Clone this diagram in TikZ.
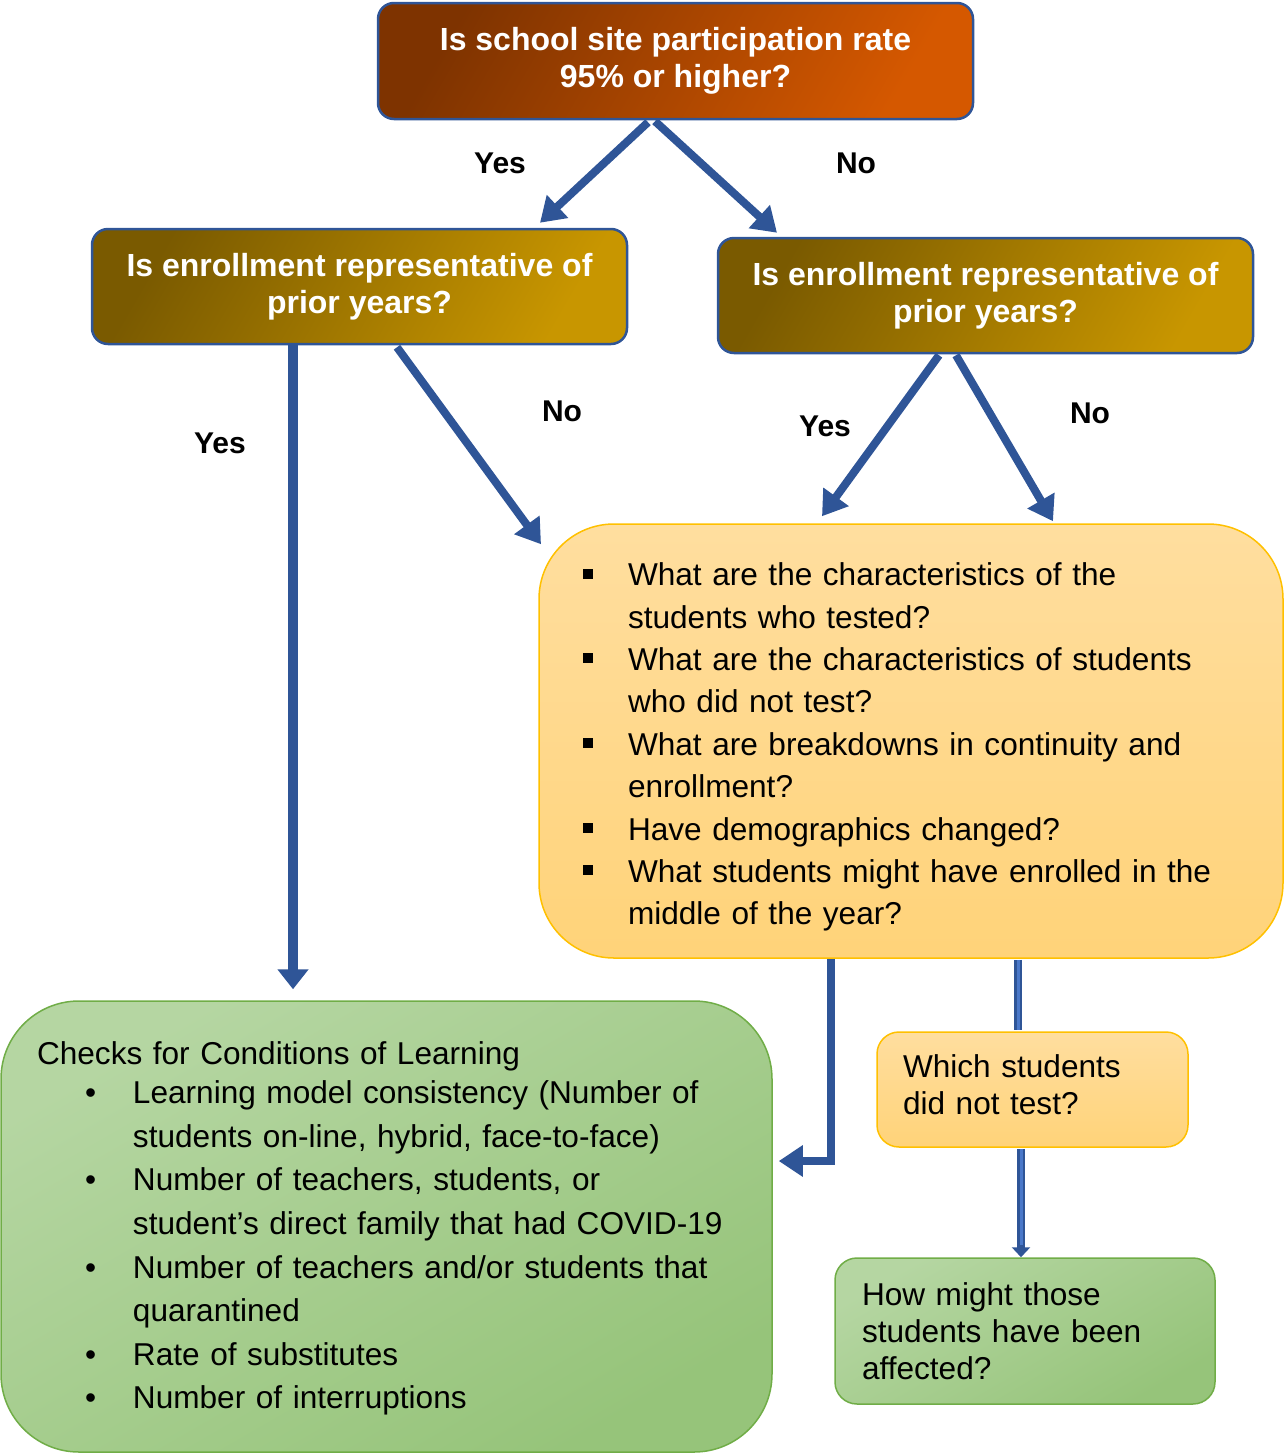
\documentclass[tikz,border=0pt]{standalone}
\usepackage{fontspec}
\setmainfont{Liberation Sans}
\usetikzlibrary{arrows.meta}
\definecolor{arrowblue}{HTML}{2F5597}
\definecolor{lightblue}{HTML}{4A78C9}
\definecolor{boxedge}{HTML}{2F5597}
\definecolor{brownA}{HTML}{7E3300}
\definecolor{brownB}{HTML}{D55800}
\definecolor{goldA}{HTML}{7A5A00}
\definecolor{goldB}{HTML}{C89600}
\definecolor{yelA}{HTML}{FFDE9F}
\definecolor{yelB}{HTML}{FFD379}
\definecolor{yeledge}{HTML}{FFC000}
\definecolor{grnA}{HTML}{B5D6A2}
\definecolor{grnB}{HTML}{96C47A}
\definecolor{grnedge}{HTML}{70AD47}
\newcommand\sqitem{\makebox[45pt][l]{\raisebox{7pt}{\rule{10pt}{10pt}}}}
\newcommand\sqcont{\hspace*{45pt}}
\newcommand\gitem{\hspace*{48pt}\makebox[48pt][l]{\textbullet}}
\newcommand\gcont{\hspace*{96pt}}
\tikzset{
  qbase/.style={draw=boxedge, line width=2.5pt, rounded corners=16pt, inner sep=0pt,
    align=center, text=white, font=\fontsize{32}{37}\selectfont\bfseries,
    minimum width=535pt, minimum height=115pt},
  topbox/.style={qbase, top color=brownA, bottom color=brownB, shading angle=60,
    minimum width=595pt, minimum height=116pt},
  goldbox/.style={qbase, top color=goldA, bottom color=goldB, shading angle=60},
  yelbox/.style={draw=yeledge, line width=1.5pt, top color=yelA, bottom color=yelB,
    inner xsep=44pt, inner ysep=0pt, align=left, font=\fontsize{31.6}{37}\selectfont},
  grnbox/.style={draw=grnedge, line width=1.5pt, top color=grnA, bottom color=grnB, shading angle=30,
    inner ysep=0pt, align=left, font=\fontsize{31.6}{37}\selectfont},
  arr/.style={draw=arrowblue, line width=8pt, -{Triangle[length=24pt,width=30pt]}},
  arrthick/.style={draw=arrowblue, line width=10pt, -{Triangle[length=20pt,width=30pt]}},
  lab/.style={font=\fontsize{30}{34}\selectfont\bfseries, inner sep=0pt},
}
\begin{document}
\begin{tikzpicture}[x=1pt,y=-1pt]
\useasboundingbox (0,0) rectangle (1287,1454);

\node[topbox] (T) at (675.5,61) {Is school site participation rate\\95\% or higher?};
\node[goldbox] (L) at (359.5,286.5) {Is enrollment representative of\\prior years?};
\node[goldbox] (R) at (985.5,295.5) {Is enrollment representative of\\prior years?};

\node[yelbox, rounded corners=75pt, minimum width=744pt, minimum height=434pt,
      text width=656pt, font=\fontsize{31.6}{42.4}\selectfont] (Q) at (911,741) {%
\sqitem\rule{0pt}{35pt}What are the characteristics of the\\
\sqcont students who tested?\\
\sqitem What are the characteristics of students\\
\sqcont who did not test?\\
\sqitem What are breakdowns in continuity and\\
\sqcont enrollment?\\
\sqitem Have demographics changed?\\
\sqitem What students might have enrolled in the\\
\sqcont middle of the year?};

\node[grnbox, rounded corners=78pt, inner xsep=36pt, minimum width=771pt, minimum height=451pt,
      text width=699pt, font=\fontsize{31.6}{43.57}\selectfont] (G) at (386.5,1226.5) {%
\rule{0pt}{27pt}Checks for Conditions of Learning\\[-4.5pt]
\gitem Learning model consistency (Number of\\
\gcont students on-line, hybrid, face-to-face)\\
\gitem Number of teachers, students, or\\
\gcont student’s direct family that had COVID-19\\
\gitem Number of teachers and/or students that\\
\gcont quarantined\\
\gitem Rate of substitutes\\
\gitem Number of interruptions};

\node[yelbox, rounded corners=22pt, inner xsep=26pt, minimum width=311pt, minimum height=115pt,
      text width=259pt] (W) at (1032.5,1089.5) {Which students\\did not test?\rule[-10pt]{0pt}{10pt}};
\node[grnbox, rounded corners=22pt, inner xsep=27pt, minimum width=380pt, minimum height=146pt,
      text width=326pt] (H) at (1025,1331) {How might those\\students have been\\affected?};

% labels
\node[lab] (y1) at (500,163) {Yes};
\node[lab] (n1) at (856,163) {No};
\node[lab] (y2) at (220,443) {Yes};
\node[lab] (n2) at (562,411) {No};
\node[lab] (y3) at (825,426) {Yes};
\node[lab] (n3) at (1090,413) {No};

% connectors
\draw[arr] ([xshift=-27.5pt,yshift=-2pt]T.south) -- ([xshift=180.5pt,yshift=5pt]L.north);
\draw[arr] ([xshift=-20.5pt,yshift=-1pt]T.south) -- ([xshift=-208.5pt,yshift=4pt]R.north);
\draw[arrthick] ([xshift=-66.5pt]L.south) -- ([xshift=-93.5pt,yshift=11pt]G.north);
\draw[arr] ([xshift=37.5pt,yshift=-2pt]L.south) -- ([xshift=-370pt,yshift=-21pt]Q.north);
\draw[arr] ([xshift=-46.5pt,yshift=-1pt]R.south) -- ([xshift=-89pt,yshift=7pt]Q.north);
\draw[arr] ([xshift=-29.5pt,yshift=-1pt]R.south) -- ([xshift=142pt,yshift=2pt]Q.north);
\draw[arr] ([xshift=-80pt]Q.south) |- ([xshift=6pt,yshift=65.5pt]G.east);

\draw[draw=arrowblue, line width=8pt] ([xshift=107pt,yshift=-1pt]Q.south) -- ([xshift=-14.5pt,yshift=1pt]W.north);
\draw[draw=lightblue, line width=3pt] ([xshift=107pt,yshift=-1pt]Q.south) -- ([xshift=-14.5pt,yshift=1pt]W.north);
\draw[draw=arrowblue, line width=8pt, -{Triangle[length=10pt,width=18pt]}] ([xshift=-11.5pt,yshift=-1pt]W.south) -- ([xshift=-4pt]H.north);
\draw[draw=lightblue, line width=3pt, shorten >=12pt] ([xshift=-11.5pt,yshift=-1pt]W.south) -- ([xshift=-4pt]H.north);
\end{tikzpicture}
\end{document}
